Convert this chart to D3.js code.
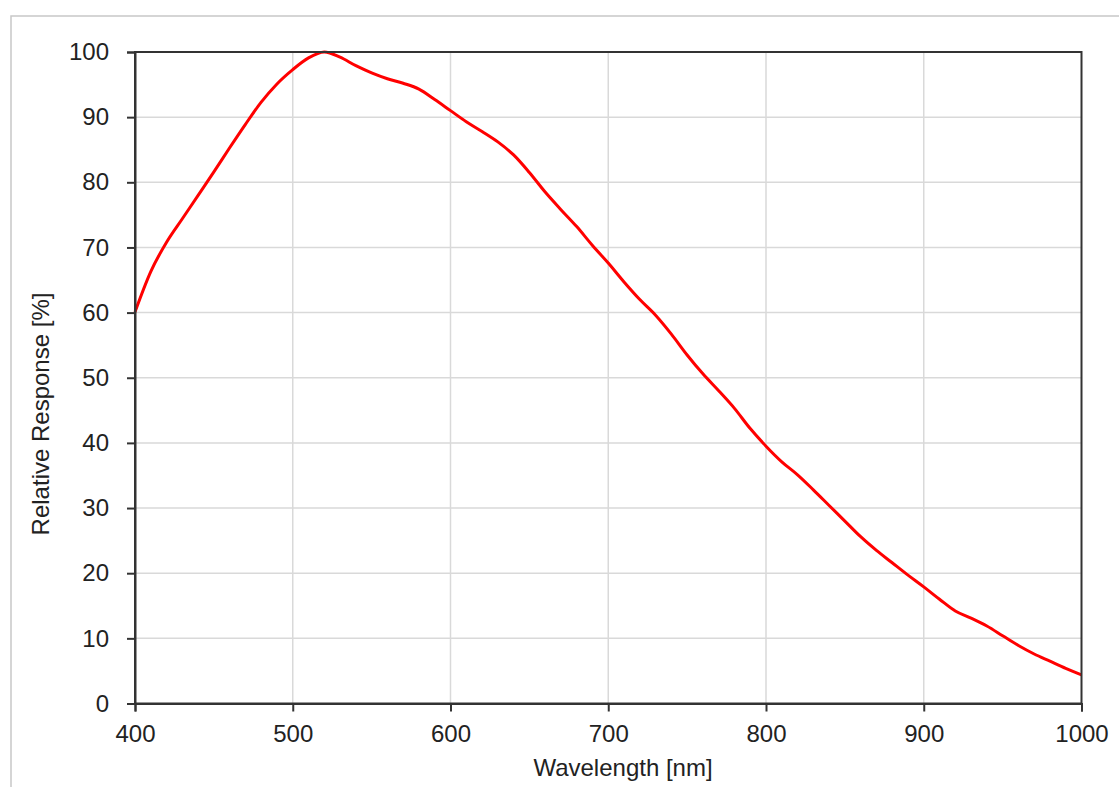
<!DOCTYPE html>
<html>
<head>
<meta charset="utf-8">
<script src="https://cdn.jsdelivr.net/npm/d3@7"></script>
<style>
  html, body { margin: 0; padding: 0; background: #fff; }
  svg { display: block; }
  text { font-family: "Liberation Sans", Arial, sans-serif; fill: #222; }
</style>
</head>
<body>
<div id="chart"></div>
<script>
// ---- data ----
const wavelengths = [400,410,420,430,440,450,460,470,480,490,500,510,520,530,540,550,560,570,580,590,
  600,610,620,630,640,650,660,670,680,690,700,710,720,730,740,750,760,770,780,790,
  800,810,820,830,840,850,860,870,880,890,900,910,920,930,940,950,960,970,980,990,1000];
const response = [60.1,66.3,70.8,74.4,78.0,81.6,85.3,88.9,92.3,95.1,97.3,99.1,100,99.2,97.9,96.8,95.9,95.2,94.3,92.7,
  91.0,89.3,87.8,86.2,84.2,81.5,78.5,75.8,73.2,70.3,67.6,64.7,62.0,59.6,56.7,53.5,50.6,48.0,45.3,42.2,
  39.5,37.1,35.1,32.8,30.4,28.0,25.6,23.5,21.6,19.7,17.9,16.0,14.2,13.1,11.9,10.4,8.9,7.6,6.5,5.4,4.4];
const xTicks = [400,500,600,700,800,900,1000];
const yTicks = [0,10,20,30,40,50,60,70,80,90,100];
const xTitle = "Wavelength [nm]";
const yTitle = "Relative Response [%]";

// ---- layout ----
const W = 1119, H = 787;
const plot = { left: 135, right: 1081.5, top: 52, bottom: 703.5 };
const fontSize = 24;

const svg = d3.select("#chart").append("svg").attr("width", W).attr("height", H);

// outer frame
svg.append("rect")
  .attr("x", 11).attr("y", 16).attr("width", 1300).attr("height", 1000)
  .attr("fill", "#fff").attr("stroke", "#c8c8c8").attr("stroke-width", 1.5);

const x = d3.scaleLinear().domain([400, 1000]).range([plot.left, plot.right]);
const y = d3.scaleLinear().domain([0, 100]).range([plot.bottom, plot.top]);

// gridlines
const grid = svg.append("g");
grid.selectAll("line.gx").data(xTicks.slice(1, -1)).enter().append("line")
  .attr("x1", d => x(d)).attr("x2", d => x(d))
  .attr("y1", plot.top).attr("y2", plot.bottom)
  .attr("stroke", "#d9d9d9").attr("stroke-width", 1.5);
grid.selectAll("line.gy").data(yTicks.slice(1, -1)).enter().append("line")
  .attr("y1", d => y(d)).attr("y2", d => y(d))
  .attr("x1", plot.left).attr("x2", plot.right)
  .attr("stroke", "#d9d9d9").attr("stroke-width", 1.5);

// curve
const line = d3.line().x((d, i) => x(wavelengths[i])).y(d => y(d)).curve(d3.curveMonotoneX);
svg.append("path").datum(response)
  .attr("d", line).attr("fill", "none")
  .attr("stroke", "#ff0000").attr("stroke-width", 3).attr("stroke-linejoin", "round");

// frame of plot
svg.append("rect")
  .attr("x", plot.left).attr("y", plot.top)
  .attr("width", plot.right - plot.left).attr("height", plot.bottom - plot.top)
  .attr("fill", "none").attr("stroke", "#333").attr("stroke-width", 2);

// axes
const xAxis = d3.axisBottom(x).tickValues(xTicks).tickSize(8).tickPadding(13).tickFormat(d3.format("d"));
const yAxis = d3.axisLeft(y).tickValues(yTicks).tickSize(8).tickPadding(18).tickFormat(d3.format("d"));

const gx = svg.append("g").attr("transform", `translate(0,${plot.bottom})`).call(xAxis);
const gy = svg.append("g").attr("transform", `translate(${plot.left},0)`).call(yAxis);
[gx, gy].forEach(g => {
  g.select(".domain").attr("stroke", "#333").attr("stroke-width", 2);
  g.selectAll(".tick line").attr("stroke", "#333").attr("stroke-width", 2);
  g.selectAll(".tick text").attr("font-family", "Liberation Sans, Arial, sans-serif")
    .attr("font-size", fontSize).attr("fill", "#222");
});

// titles
svg.append("text")
  .attr("x", 623).attr("y", 776)
  .attr("text-anchor", "middle").attr("font-size", fontSize).text(xTitle);
svg.append("text")
  .attr("transform", `translate(49,414) rotate(-90)`)
  .attr("text-anchor", "middle").attr("font-size", fontSize).text(yTitle);
</script>
</body>
</html>
